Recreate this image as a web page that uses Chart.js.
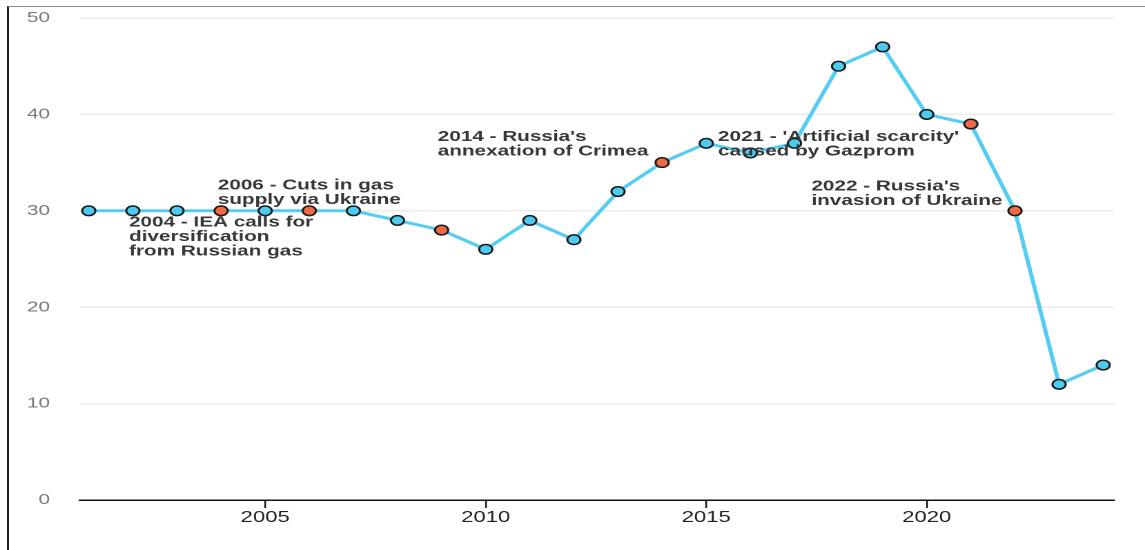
<!DOCTYPE html>
<html>
<head>
<meta charset="utf-8">
<script src="https://cdn.jsdelivr.net/npm/chart.js@4/dist/chart.umd.min.js"></script>
<style>
  html, body { margin:0; padding:0; background:#fff; }
  body { width:1145px; height:550px; overflow:hidden; position:relative; }
  #frame { position:absolute; left:7px; top:6px; right:0; bottom:0; border-left:2px solid #222; border-top:1px solid #8a8a8a; }
  /* the source picture is stretched sideways, so draw narrow and widen */
  #wrap { position:absolute; left:9px; top:7px; width:823px; height:543px; transform:scaleX(1.3803); transform-origin:0 0; }
</style>
</head>
<body>
<div id="frame"></div>
<div id="wrap"><canvas id="chart"></canvas></div>
<script>
// data
const years  = [2001,2002,2003,2004,2005,2006,2007,2008,2009,2010,2011,2012,2013,2014,2015,2016,2017,2018,2019,2020,2021,2022,2023,2024];
const values = [30,30,30,30,30,30,30,29,28,26,29,27,32,35,37,36,37,45,47,40,39,30,12,14];
const eventYears = [2004,2006,2009,2014,2021,2022];
const xTicks = [2005,2010,2015,2020];
const yTicks = [0,10,20,30,40,50];

// event notes: text lines + anchor (centre) in data units
const noteLines = [
  ['2004 - IEA calls for','diversification','from Russian gas'],
  ['2006 - Cuts in gas','supply via Ukraine'],
  ["2014 - Russia's",'annexation of Crimea'],
  ["2021 - 'Artificial scarcity'",'caused by Gazprom'],
  ["2022 - Russia's",'invasion of Ukraine']
];
const noteX = [2004, 2006, 2011.3, 2018.0, 2019.55];
const noteY = [27.3, 31.9, 36.9, 36.9, 31.8];

const BLUE = '#4dcaf1', ORANGE = '#f06a47', LINE = '#55cdf2';
const FONT = '"Liberation Sans", Arial, sans-serif';

const notesPlugin = {
  id: 'notes',
  afterDatasetsDraw(chart) {
    const {ctx, scales:{x, y}} = chart;
    ctx.save();
    ctx.font = 'bold 15px ' + FONT;
    ctx.fillStyle = '#383838';
    ctx.textAlign = 'left';
    ctx.textBaseline = 'middle';
    const lh = 14.4;
    noteLines.forEach((lines, i) => {
      const cx = x.getPixelForValue(noteX[i]);
      const cy = y.getPixelForValue(noteY[i]);
      const w = Math.max(...lines.map(l => ctx.measureText(l).width));
      const top = cy - (lines.length-1)*lh/2;
      lines.forEach((l, j) => ctx.fillText(l, cx - w/2, top + j*lh));
    });
    ctx.restore();
  }
};

new Chart(document.getElementById('chart'), {
  type: 'line',
  data: {
    datasets: [{
      data: years.map((yr, i) => ({x: yr, y: values[i]})),
      borderColor: LINE,
      borderWidth: 3,
      tension: 0,
      pointRadius: 4.8,
      pointBorderWidth: 1.5,
      pointBorderColor: '#1a1a1a',
      pointBackgroundColor: years.map(yr => eventYears.includes(yr) ? ORANGE : BLUE)
    }]
  },
  options: {
    responsive: true,
    maintainAspectRatio: false,
    devicePixelRatio: 2,
    animation: false,
    events: [],
    layout: { autoPadding: false, padding: { top: 11, right: 22.3, left: 0, bottom: 0 } },
    plugins: { legend: { display: false }, tooltip: { enabled: false } },
    scales: {
      x: {
        type: 'linear', min: 2000.8, max: 2024.25,
        afterBuildTicks: s => { s.ticks = xTicks.map(v => ({value: v})); },
        afterFit: s => { s.height = 50; s.paddingLeft = 0; s.paddingRight = 0; },
        grid: { display: true, drawOnChartArea: false, drawTicks: true, tickLength: 8, color: '#111', lineWidth: 1.2 },
        border: { display: true, color: '#111', width: 1.5 },
        ticks: { color: '#222', padding: 0, font: { size: 16, family: FONT }, callback: v => String(v) }
      },
      y: {
        min: 0, max: 50,
        afterBuildTicks: s => { s.ticks = yTicks.map(v => ({value: v})); },
        afterFit: s => { s.width = 51.4; s.paddingTop = 0; s.paddingBottom = 0; },
        grid: { color: c => c.tick.value === 0 ? 'rgba(0,0,0,0)' : '#ebebeb', lineWidth: 1.5, drawTicks: false },
        border: { display: false },
        ticks: { color: '#7a7a7a', padding: 21.7, font: { size: 15, family: FONT } }
      }
    }
  },
  plugins: [notesPlugin]
});
</script>
</body>
</html>
